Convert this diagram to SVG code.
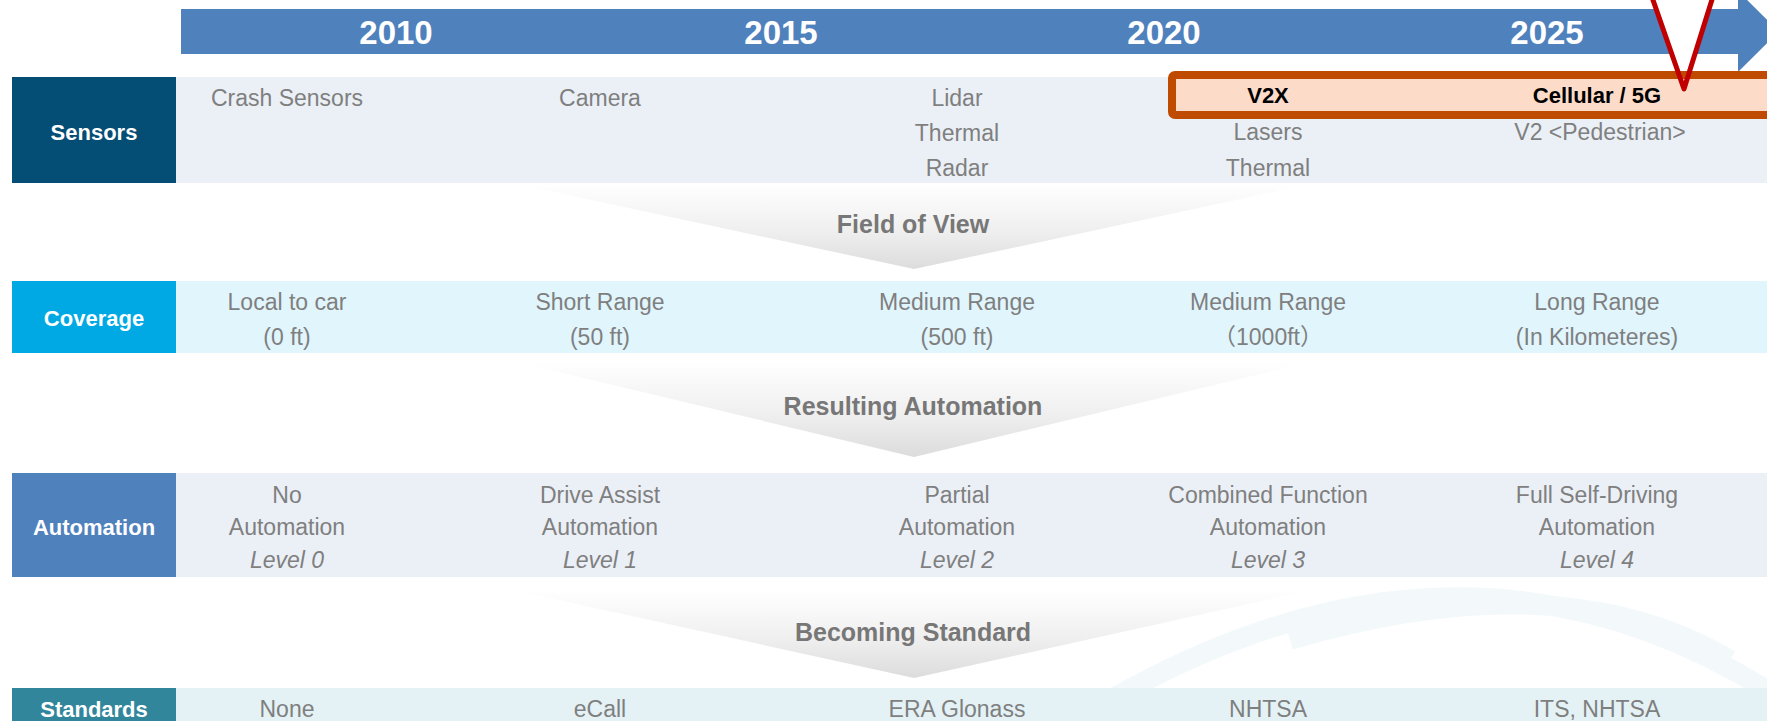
<svg xmlns="http://www.w3.org/2000/svg" width="1767" height="721" viewBox="0 0 1767 721">
<defs>
<linearGradient id="fun" x1="0" y1="0" x2="0" y2="1">
<stop offset="0" stop-color="#ffffff"/>
<stop offset="0.55" stop-color="#efefef"/>
<stop offset="1" stop-color="#dcdcdc"/>
</linearGradient>
<style>
text{font-family:"Liberation Sans",Arial,"Noto Sans CJK SC",sans-serif;text-anchor:middle}
.yr{font-size:33px;font-weight:bold;fill:#ffffff}
.lbl{font-size:22px;font-weight:bold;fill:#ffffff}
.t{font-size:23px;fill:#7f7f7f}
.i{font-size:23px;fill:#7f7f7f;font-style:italic}
.hb{font-size:22px;font-weight:bold;fill:#000000}
.fl{font-size:25px;font-weight:bold;fill:#777777}
.fun{fill:url(#fun)}
.wm{fill:none;stroke:#f3f9fb;stroke-width:20}
</style>
</defs>
<rect width="1767" height="721" fill="#ffffff"/>

<g id="watermark">
<path class="wm" d="M1110,700 Q1460,500 1767,690"/>
<path class="wm" d="M1290,640 Q1560,560 1730,660" stroke-width="10"/>
</g>

<g id="timeline">
<rect x="181" y="9" width="1557" height="45" fill="#4f81bd"/>
<polygon points="1738,-9 1779,31.5 1738,72" fill="#4f81bd"/>
<text class="yr" x="396" y="44">2010</text>
<text class="yr" x="781" y="44">2015</text>
<text class="yr" x="1164" y="44">2020</text>
<text class="yr" x="1547" y="44">2025</text>
</g>

<g id="connectors">
<g id="funnel-fov">
<polygon class="fun" points="517,184 1311,184 914,269"/>
<text class="fl" x="913" y="233">Field of View</text>
</g>
<g id="funnel-ra">
<polygon class="fun" points="517,362 1311,362 914,457"/>
<text class="fl" x="913" y="415">Resulting Automation</text>
</g>
<g id="funnel-bs">
<polygon class="fun" points="513,590 1311,590 914,678"/>
<text class="fl" x="913" y="641">Becoming Standard</text>
</g>
</g>

<g id="row-sensors">
<rect x="12" y="77" width="164" height="106" fill="#044d75"/>
<rect x="176" y="77" width="1591" height="106" fill="#ebf0f7"/>
<text class="lbl" x="94" y="140">Sensors</text>
<text class="t" x="287" y="106">Crash Sensors</text>
<text class="t" x="600" y="106">Camera</text>
<text class="t" x="957" y="106">Lidar</text>
<text class="t" x="957" y="141">Thermal</text>
<text class="t" x="957" y="176">Radar</text>
<text class="t" x="1268" y="140">Lasers</text>
<text class="t" x="1268" y="176">Thermal</text>
<text class="t" x="1600" y="140">V2 &lt;Pedestrian&gt;</text>
</g>

<g id="highlight">
<polygon points="1649.5,-10 1715,-10 1684,89" fill="#ffffff"/>
<rect x="1172" y="75" width="620" height="40" rx="3" fill="#fcdcc9" stroke="#bf4b00" stroke-width="8"/>
<text class="hb" x="1268" y="103">V2X</text>
<text class="hb" x="1597" y="103">Cellular / 5G</text>
<polyline points="1649.5,-10 1684,89 1715,-10" fill="none" stroke="#c00000" stroke-width="5" stroke-linejoin="round" stroke-linecap="round"/>
</g>

<g id="row-coverage">
<rect x="12" y="281" width="164" height="72" fill="#00a9e3"/>
<rect x="176" y="281" width="1591" height="72" fill="#e1f5fd"/>
<text class="lbl" x="94" y="326">Coverage</text>
<text class="t" x="287" y="310">Local to car</text>
<text class="t" x="287" y="345">(0 ft)</text>
<text class="t" x="600" y="310">Short Range</text>
<text class="t" x="600" y="345">(50 ft)</text>
<text class="t" x="957" y="310">Medium Range</text>
<text class="t" x="957" y="345">(500 ft)</text>
<text class="t" x="1268" y="310">Medium Range</text>
<text class="t" x="1268" y="345">（1000ft）</text>
<text class="t" x="1597" y="310">Long Range</text>
<text class="t" x="1597" y="345">(In Kilometeres)</text>
</g>

<g id="row-automation">
<rect x="12" y="473" width="164" height="104" fill="#4f81bd"/>
<rect x="176" y="473" width="1591" height="104" fill="#ebf0f7"/>
<text class="lbl" x="94" y="535">Automation</text>
<text class="t" x="287" y="503">No</text>
<text class="t" x="287" y="535">Automation</text>
<text class="i" x="287" y="568">Level 0</text>
<text class="t" x="600" y="503">Drive Assist</text>
<text class="t" x="600" y="535">Automation</text>
<text class="i" x="600" y="568">Level 1</text>
<text class="t" x="957" y="503">Partial</text>
<text class="t" x="957" y="535">Automation</text>
<text class="i" x="957" y="568">Level 2</text>
<text class="t" x="1268" y="503">Combined Function</text>
<text class="t" x="1268" y="535">Automation</text>
<text class="i" x="1268" y="568">Level 3</text>
<text class="t" x="1597" y="503">Full Self-Driving</text>
<text class="t" x="1597" y="535">Automation</text>
<text class="i" x="1597" y="568">Level 4</text>
</g>

<g id="row-standards">
<rect x="12" y="688" width="164" height="40" fill="#31869b"/>
<rect x="176" y="688" width="1591" height="40" fill="#e4f2f6"/>
<text class="lbl" x="94" y="717">Standards</text>
<text class="t" x="287" y="717">None</text>
<text class="t" x="600" y="717">eCall</text>
<text class="t" x="957" y="717">ERA Glonass</text>
<text class="t" x="1268" y="717">NHTSA</text>
<text class="t" x="1597" y="717">ITS, NHTSA</text>
</g>
</svg>
